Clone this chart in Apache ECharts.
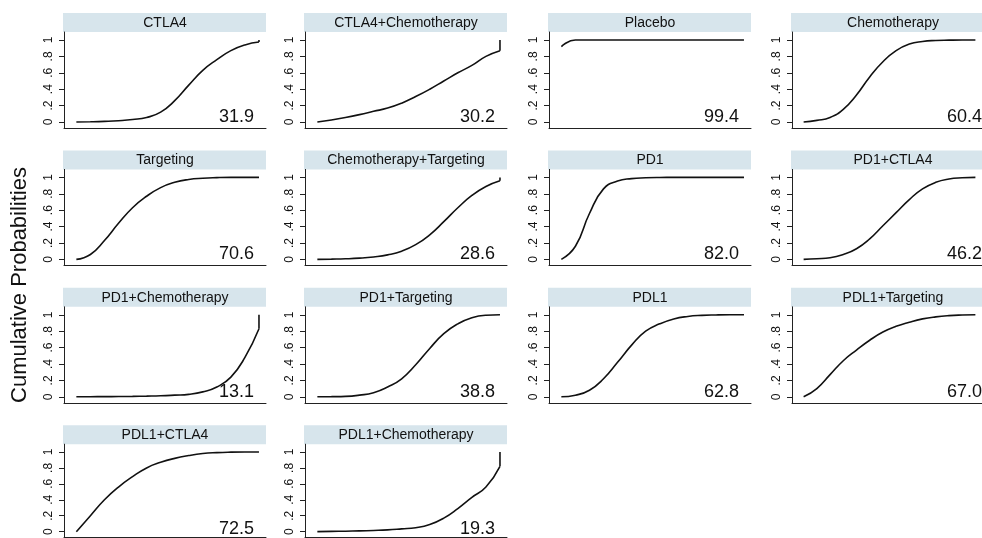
<!DOCTYPE html>
<html><head><meta charset="utf-8">
<script src="https://cdn.jsdelivr.net/npm/echarts@6/dist/echarts.min.js"></script>
<style>html,body{margin:0;padding:0;background:#fff}#c{width:982px;height:538px}</style>
</head><body><div id="c"></div>
<script>
// ---- data ----
const ranks = [1,2,3,4,5,6,7,8,9,10,11,12,13,14];
const treatments = ['CTLA4','CTLA4+Chemotherapy','Placebo','Chemotherapy',
  'Targeting','Chemotherapy+Targeting','PD1','PD1+CTLA4',
  'PD1+Chemotherapy','PD1+Targeting','PDL1','PDL1+Targeting',
  'PDL1+CTLA4','PDL1+Chemotherapy'];
const sucra = [31.9,30.2,99.4,60.4,70.6,28.6,82.0,46.2,13.1,38.8,62.8,67.0,72.5,19.3];
const cumCTLA4          = [0,.003,.008,.016,.03,.055,.12,.26,.45,.63,.76,.87,.94,.975];
const cumCTLA4Chemo     = [0,.025,.055,.09,.13,.17,.23,.31,.40,.50,.60,.69,.80,.87];
const cumPlacebo        = [.92,1,1,1,1,1,1,1,1,1,1,1,1,1];
const cumChemo          = [0,.02,.055,.155,.33,.55,.735,.87,.95,.982,.994,.998,1,1];
const cumTargeting      = [0,.06,.23,.44,.63,.77,.875,.94,.975,.99,.997,1,1,1];
const cumChemoTargeting = [0,.003,.007,.015,.03,.055,.10,.18,.30,.46,.63,.78,.89,.96];
const cumPD1            = [0,.16,.56,.86,.955,.985,.995,.999,1,1,1,1,1,1];
const cumPD1CTLA4       = [0,.008,.02,.06,.13,.25,.41,.57,.73,.86,.94,.98,.995,1];
const cumPD1Chemo       = [0,.001,.002,.003,.005,.008,.012,.02,.03,.06,.12,.24,.48,.83];
const cumPD1Targeting   = [0,.002,.005,.02,.05,.12,.22,.39,.59,.77,.89,.965,.995,1];
const cumPDL1           = [0,.02,.08,.22,.42,.63,.80,.89,.95,.98,.993,.998,1,1];
const cumPDL1Targeting  = [0,.10,.27,.44,.57,.69,.79,.86,.91,.95,.975,.99,.997,1];
const cumPDL1CTLA4      = [0,.20,.40,.56,.69,.80,.87,.92,.955,.98,.992,.998,1,1];
const cumPDL1Chemo      = [0,.003,.006,.01,.015,.022,.035,.05,.09,.17,.29,.43,.56,.82];
const yTicks = [0,.2,.4,.6,.8,1];
const cums = [cumCTLA4,cumCTLA4Chemo,cumPlacebo,cumChemo,cumTargeting,cumChemoTargeting,
  cumPD1,cumPD1CTLA4,cumPD1Chemo,cumPD1Targeting,cumPDL1,cumPDL1Targeting,cumPDL1CTLA4,cumPDL1Chemo];

// ---- layout ----
const colLeft = [64, 305, 549, 792];
const rowStep = 137.4;
const plotW = 202, plotH = 96, stripH = 19;
const FONT = 'Liberation Sans, Arial, sans-serif';

const grids = [], xAxes = [], yAxes = [], series = [], elements = [];
treatments.forEach((name, i) => {
  const c = i % 4, r = Math.floor(i / 4);
  const left = colLeft[c];
  const top = 32 + r * rowStep;
  grids.push({left: left, top: top, width: plotW, height: plotH});
  xAxes.push({gridIndex: i, type: 'value', min: 0.12, max: 14.5,
    axisLine: {show: true, onZero: false, lineStyle: {color: '#222', width: 1}},
    axisTick: {show: false}, axisLabel: {show: false}, splitLine: {show: false}});
  yAxes.push({gridIndex: i, type: 'value', min: -0.0732, max: 1.0976,
    axisLine: {show: true, onZero: false, lineStyle: {color: '#222', width: 1}},
    axisTick: {show: true, length: 5, customValues: yTicks, lineStyle: {color: '#222'}},
    axisLabel: {show: true, customValues: yTicks, rotate: 90, margin: 9, fontSize: 12,
      fontFamily: FONT, color: '#111',
      formatter: v => v === 0 ? '0' : v === 1 ? '1' : String(+v.toFixed(1)).replace('0.', '.')},
    splitLine: {show: false}});
  const cum = cums[i];
  series.push({type: 'line', xAxisIndex: i, yAxisIndex: i, showSymbol: false, silent: true,
    smooth: 0.5,
    lineStyle: {color: '#111', width: 1.6},
    data: ranks.map((rk, k) => [rk, cum[k]])});
  if (cum[cum.length - 1] < 1) {
    series.push({type: 'line', xAxisIndex: i, yAxisIndex: i, showSymbol: false, silent: true,
      lineStyle: {color: '#111', width: 1.6},
      data: [[ranks[ranks.length - 1], cum[cum.length - 1]], [ranks[ranks.length - 1], 1]]});
  }
  // strip title
  elements.push({type: 'rect', silent: true,
    shape: {x: left - 1, y: 13 + r * rowStep, width: plotW + 1, height: stripH},
    style: {fill: '#d7e5ec'}});
  elements.push({type: 'text', silent: true,
    style: {text: name, x: left + plotW / 2, y: 13 + r * rowStep + stripH / 2 + 0.5,
      fill: '#111', font: '14px ' + FONT, textAlign: 'center', textVerticalAlign: 'middle'}});
  // SUCRA value
  elements.push({type: 'text', silent: true,
    style: {text: sucra[i].toFixed(1), x: left + 190, y: 117 + r * rowStep,
      fill: '#111', font: '18px ' + FONT, textAlign: 'right', textVerticalAlign: 'middle'}});
});
elements.push({type: 'text', silent: true, x: 20, y: 285, rotation: Math.PI / 2,
  style: {text: 'Cumulative Probabilities', x: 0, y: 0, fill: '#111', font: '22px ' + FONT,
    textAlign: 'center', textVerticalAlign: 'middle'}});

const chart = echarts.init(document.getElementById('c'), null, {renderer: 'canvas'});
chart.setOption({
  animation: false,
  backgroundColor: '#fff',
  grid: grids, xAxis: xAxes, yAxis: yAxes, series: series,
  graphic: {elements: elements}
});
</script></body></html>
